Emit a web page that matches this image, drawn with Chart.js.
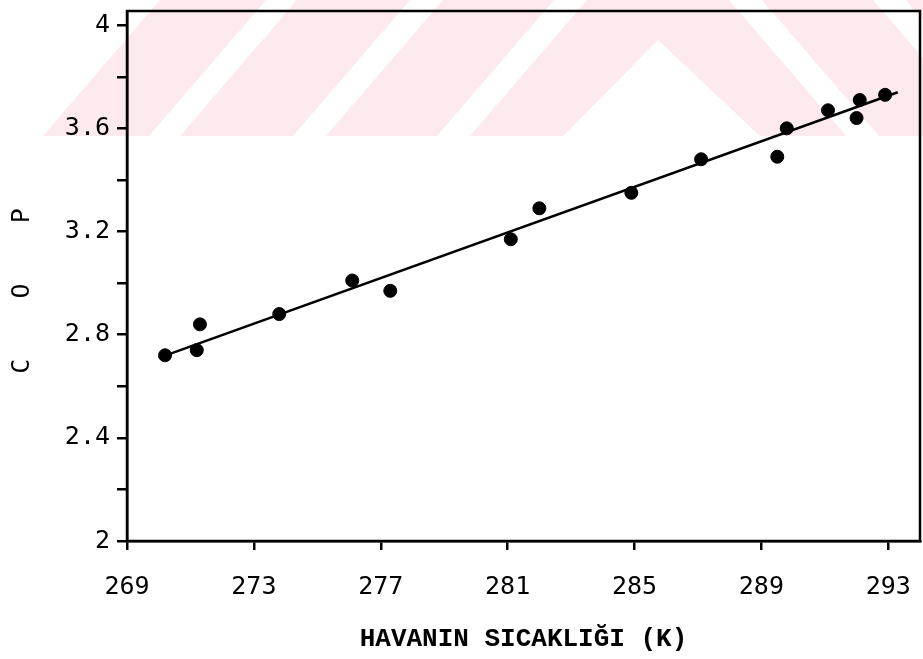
<!DOCTYPE html>
<html>
<head>
<meta charset="utf-8">
<script src="https://cdn.jsdelivr.net/npm/chart.js@4"></script>
<style>
  body { margin: 0; background: #fff; }
  canvas { display: block; }
</style>
</head>
<body>
<canvas id="cop" width="923" height="659"></canvas>
<script>
// Havanin sicakligi - COP

const airTemp = [270.2, 271.2, 271.3, 273.8, 276.1, 277.3, 281.1, 282.0, 284.9, 287.1, 289.5, 289.8, 291.1, 292.0, 292.1, 292.9];
const copValues = [2.72, 2.74, 2.84, 2.88, 3.01, 2.97, 3.17, 3.29, 3.35, 3.48, 3.49, 3.60, 3.67, 3.64, 3.71, 3.73];

// regresyon dogrusu uclari
const fitTemp = [270.0, 293.3];
const fitCop = [2.71, 3.74];

const xTicks = [269, 273, 277, 281, 285, 289, 293];
const yTicks = [2, 2.2, 2.4, 2.6, 2.8, 3, 3.2, 3.4, 3.6, 3.8, 4];
const yTickLabels = ["2", "", "2.4", "", "2.8", "", "3.2", "", "3.6", "", "4"];

const mono = "'DejaVu Sans Mono', monospace";

// tarama filigrani (pembe bant)
const watermark = {
  id: "watermark",
  beforeDraw(chart) {
    const c = chart.ctx;
    const poly = (pts, color) => {
      c.beginPath();
      c.moveTo(pts[0][0], pts[0][1]);
      pts.slice(1).forEach((p) => c.lineTo(p[0], p[1]));
      c.closePath();
      c.fillStyle = color;
      c.fill();
    };
    c.save();
    const pink = "rgb(253,234,238)";
    poly([[43, 136], [160, 0], [923, 0], [923, 136]], pink);
    const white = "#fff";
    [[149, 180], [293, 326], [437, 470]].forEach(([a, b]) => {
      poly([[a, 136], [b, 136], [b + 117, 0], [a + 117, 0]], white);
    });
    poly([[658, 40], [563, 136], [760, 136]], white);
    [[729, 762], [873, 906]].forEach(([a, b]) => {
      poly([[a, 0], [b, 0], [b + 117, 136], [a + 117, 136]], white);
    });
    c.restore();
  },
  afterDraw(chart) {
    const { left, top, right, bottom } = chart.chartArea;
    const c = chart.ctx;
    c.save();
    c.strokeStyle = "#000";
    c.lineWidth = 2.5;
    c.strokeRect(left, top, right - left, bottom - top);
    c.restore();
  },
};

const data = {
  datasets: [
    {
      type: "line",
      label: "fit",
      data: fitTemp.map((x, i) => ({ x, y: fitCop[i] })),
      borderColor: "#000",
      borderWidth: 2.5,
      pointRadius: 0,
      fill: false,
    },
    {
      type: "scatter",
      label: "COP",
      data: airTemp.map((x, i) => ({ x, y: copValues[i] })),
      backgroundColor: "#000",
      borderColor: "#000",
      pointRadius: 6.5,
    },
  ],
};

const config = {
  data,
  plugins: [watermark],
  options: {
    responsive: false,
    animation: false,
    layout: { autoPadding: false, padding: { top: 11, right: 3, left: 0, bottom: 0 } },
    plugins: {
      legend: { display: false },
      tooltip: { enabled: false },
    },
    scales: {
      x: {
        type: "linear",
        min: 269,
        max: 294,
        afterBuildTicks: (s) => { s.ticks = xTicks.map((v) => ({ value: v })); },
        afterFit: (s) => {
          s.height = 118;
          s.paddingLeft = 0;
          s.paddingRight = 0;
        },
        border: { color: "#000", width: 2.5 },
        grid: { drawOnChartArea: false, color: "#000", lineWidth: 2.5, tickLength: 9 },
        ticks: {
          color: "#000",
          padding: 22,
          maxRotation: 0,
          font: { family: mono, size: 25 },
        },
        title: {
          display: true,
          text: "HAVANIN SICAKLIĞI (K)",
          color: "#000",
          padding: { top: 0, bottom: 4 },
          font: { family: "'Liberation Mono', monospace", size: 26, weight: "bold" },
        },
      },
      y: {
        type: "linear",
        min: 2,
        max: 4.055,
        afterBuildTicks: (s) => { s.ticks = yTicks.map((v) => ({ value: v })); },
        afterFit: (s) => {
          s.width = 127;
          s.paddingTop = 0;
          s.paddingBottom = 0;
        },
        border: { color: "#000", width: 2.5 },
        grid: { drawOnChartArea: false, color: "#000", lineWidth: 2.5, tickLength: 10 },
        ticks: {
          color: "#000",
          padding: 7,
          font: { family: mono, size: 25 },
          callback: (v) => {
            const i = yTicks.findIndex((t) => Math.abs(t - v) < 1e-6);
            return i >= 0 ? yTickLabels[i] : "";
          },
        },
        title: {
          display: true,
          text: "C    O    P  ",
          color: "#000",
          padding: { top: 7, bottom: 0 },
          font: { family: mono, size: 25 },
        },
      },
    },
  },
};

const copChart = new Chart(document.getElementById("cop").getContext("2d"), config);
</script>
</body>
</html>
